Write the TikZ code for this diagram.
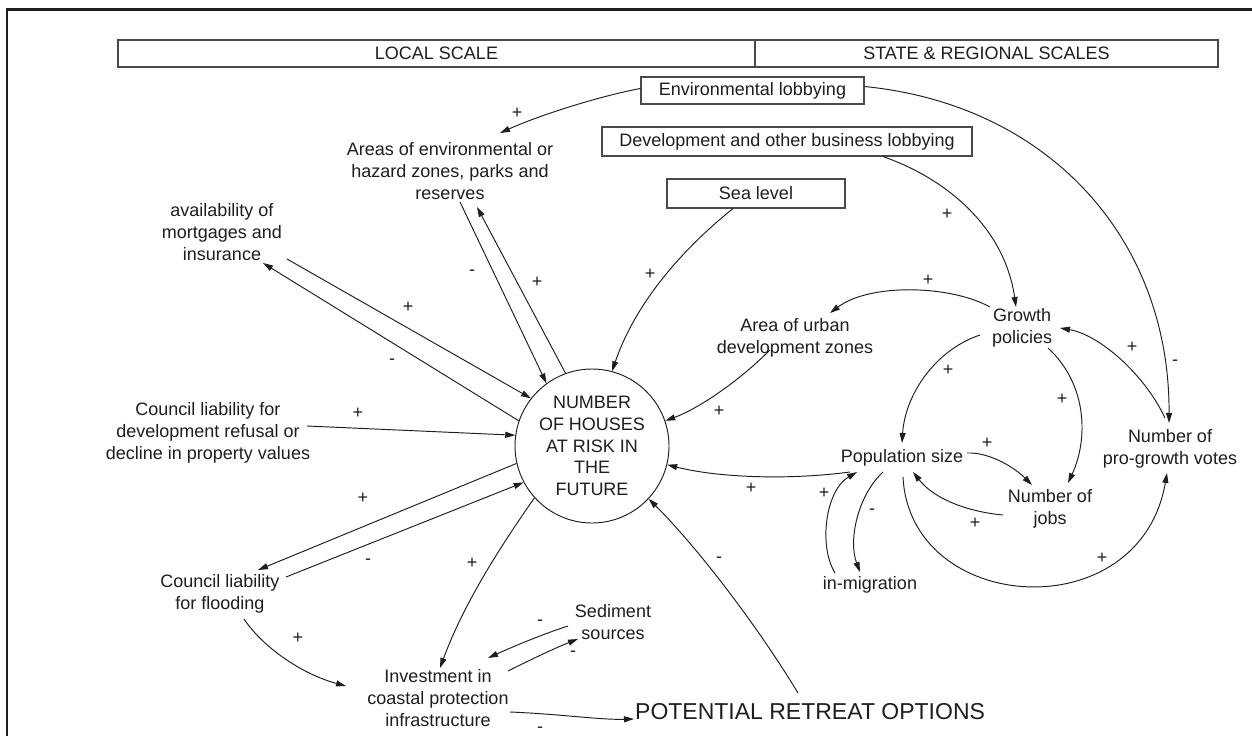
\documentclass[tikz,border=0pt]{standalone}
\usepackage{fontspec}
\setmainfont{Liberation Sans}
\usetikzlibrary{arrows.meta}
\definecolor{ink}{HTML}{1E1E1E}
\definecolor{boxgray}{HTML}{4A4A4A}
\begin{document}
\begin{tikzpicture}[x=1pt,y=-1pt,
  lbl/.style={font=\fontsize{18}{21.7}\selectfont, text=ink, align=center, inner sep=2pt},
  boxed/.style={lbl, draw=boxgray, line width=1.1pt, inner sep=0pt},
  link/.style={draw=ink, line width=0.95pt, -{Triangle[length=10pt,width=6pt]}},
  sgn/.style={font=\fontsize{18}{18}\selectfont, text=ink, inner sep=0pt}
]
\useasboundingbox (0,0) rectangle (1252,736);
\fill[white] (0,0) rectangle (1252,736);
% outer frame (top and left edges)
\draw[ink, line width=2.6pt] (7,736) -- (7,9.5) -- (1252,9.5);

% scale header
\node[boxed, minimum width=637pt, minimum height=27pt] (local) at (436.5,53.5) {LOCAL SCALE};
\node[boxed, minimum width=463pt, minimum height=27pt] (state) at (986.5,53.5) {STATE \& REGIONAL SCALES};

% boxed drivers
\node[boxed, minimum width=223pt, minimum height=27pt] (envlob) at (752.5,90.5) {Environmental lobbying};
\node[boxed, minimum width=370pt, minimum height=29pt] (devlob) at (787,141.5) {Development and other business lobbying};
\node[boxed, minimum width=178pt, minimum height=29pt] (sea) at (756,193.5) {Sea level};

% central variable
\node[lbl, circle, draw=ink, line width=0.95pt, minimum size=154pt, inner sep=0pt] (risk) at (592,446)
  {NUMBER\\OF HOUSES\\AT RISK IN\\THE\\FUTURE};

% local variables
\node[lbl] (areas) at (450,171) {Areas of environmental or\\hazard zones, parks and\\reserves};
\node[lbl] (avail) at (222,232) {availability of\\mortgages and\\insurance};
\node[lbl] (refusal) at (208,433) {Council liability for\\development refusal or\\decline in property values};
\node[lbl] (flood) at (220,594) {Council liability\\for flooding};
\node[lbl] (invest) at (438,698) {Investment in\\coastal protection\\infrastructure};
\node[lbl] (sediment) at (613,622) {Sediment\\sources};
\node[font=\fontsize{23}{23}\selectfont, text=ink, inner sep=0pt, anchor=west] (retreat) at (635,712) {POTENTIAL RETREAT OPTIONS};

% state and regional variables
\node[lbl] (urban) at (795,338) {Area of urban\\development zones};
\node[lbl] (growth) at (1022,328) {Growth\\policies};
\node[lbl] (pop) at (902,458) {Population size};
\node[lbl] (jobs) at (1050,509) {Number of\\jobs};
\node[lbl] (votes) at (1170,449) {Number of\\pro-growth votes};
\node[lbl] (migr) at (870,585) {in-migration};

% lobbying links
\draw[link] ([shift={(0,-2)}]envlob.west) .. controls (600,96) and (540,115) .. ([shift={(50,-38)}]areas.center);
\node[sgn] (s1) at (517,113) {+};
\draw[link] ([shift={(0,-4)}]envlob.east) .. controls (1050,105) and (1170,240) .. ([shift={(-1,-26)}]votes.center);
\node[sgn] (s2) at (1175,363) {-};
\draw[link] ([shift={(96,0)}]devlob.south) .. controls (950,180) and (1005,230) .. ([shift={(-6,-21)}]growth.center);
\node[sgn] (s3) at (947,214) {+};
\draw[link] ([shift={(-23,0)}]sea.south) .. controls (700,235) and (640,290) .. (risk.75.5);
\node[sgn] (s4) at (650,274) {+};

% links around the central variable
\draw[link] ([shift={(10,31)}]areas.center) -- (risk.126);
\node[sgn] (s5) at (472,273) {-};
\draw[link] (risk.110.6) -- ([shift={(27,36)}]areas.center);
\node[sgn] (s6) at (537,282) {+};
\draw[link] ([shift={(65,27)}]avail.center) -- (risk.142);
\node[sgn] (s7) at (408,307) {+};
\draw[link] (risk.161) -- ([shift={(41,31)}]avail.center);
\node[sgn] (s8) at (392,362) {-};
\draw[link] ([shift={(99,-7)}]refusal.center) -- (risk.172);
\node[sgn] (s9) at (358,413) {+};
\draw[link] (risk.193) -- ([shift={(38,-24)}]flood.center);
\node[sgn] (s10) at (363,498) {+};
\draw[link] ([shift={(66,-17)}]flood.center) -- (risk.208);
\node[sgn] (s11) at (368,562) {-};
\draw[link] (risk.222) .. controls (505,540) and (465,600) .. ([shift={(2,-30)}]invest.center);
\node[sgn] (s12) at (472,563) {+};
\draw[link] ([shift={(24,25)}]flood.center) .. controls (265,650) and (305,675) .. ([shift={(-92,-12)}]invest.center);
\node[sgn] (s13) at (298,638) {+};
\draw[link] ([shift={(-45,4)}]sediment.center) .. controls (540,635) and (510,648) .. ([shift={(50,-40)}]invest.center);
\node[sgn] (s14) at (540,623) {-};
\draw[link] ([shift={(70,-27)}]invest.center) .. controls (530,660) and (555,648) .. ([shift={(-35,17)}]sediment.center);
\node[sgn] (s15) at (573,654) {-};
\draw[link] ([shift={(72,14)}]invest.center) .. controls (560,714) and (600,720) .. ([shift={(-1,7)}]retreat.west);
\node[sgn] (s16) at (540,730) {-};
\draw[link] ([shift={(163,-19)}]retreat.west) .. controls (760,630) and (700,550) .. (risk.317);
\node[sgn] (s17) at (719,560) {-};
\draw[link] ([shift={(-25,12)}]urban.center) .. controls (740,380) and (700,408) .. (risk.19);
\node[sgn] (s18) at (719,411) {+};
\draw[link] ([shift={(-52,14)}]pop.center) .. controls (790,480) and (720,478) .. (risk.346);
\node[sgn] (s19) at (751,488) {+};

% growth loop links
\draw[link] ([shift={(-32,-21)}]growth.center) .. controls (950,285) and (870,283) .. ([shift={(35,-25)}]urban.center);
\node[sgn] (s20) at (928,280) {+};
\draw[link] ([shift={(-5,-31)}]votes.center) .. controls (1145,375) and (1100,335) .. ([shift={(38,0)}]growth.center);
\node[sgn] (s21) at (1132,347) {+};
\draw[link] ([shift={(-42,7)}]growth.center) .. controls (935,350) and (905,395) .. ([shift={(0,-15)}]pop.center);
\node[sgn] (s22) at (948,370) {+};
\draw[link] ([shift={(26,20)}]growth.center) .. controls (1088,385) and (1088,440) .. ([shift={(18,-26)}]jobs.center);
\node[sgn] (s23) at (1062,399) {+};
\draw[link] ([shift={(65,-5)}]pop.center) .. controls (990,452) and (1015,468) .. ([shift={(-18,-24)}]jobs.center);
\node[sgn] (s24) at (987,443) {+};
\draw[link] ([shift={(-47,6)}]jobs.center) .. controls (970,512) and (935,500) .. ([shift={(11,14)}]pop.center);
\node[sgn] (s25) at (975,523) {+};
\draw[link] ([shift={(1,19)}]pop.center) .. controls (910,615) and (1140,630) .. ([shift={(-3,24)}]votes.center);
\node[sgn] (s26) at (1102,558) {+};
\draw[link] ([shift={(-19,14)}]pop.center) .. controls (858,495) and (848,540) .. ([shift={(-10,-13)}]migr.center);
\node[sgn] (s27) at (872,512) {-};
\draw[link] ([shift={(-35,-12)}]migr.center) .. controls (818,545) and (826,490) .. ([shift={(-45,14)}]pop.center);
\node[sgn] (s28) at (824,493) {+};
\end{tikzpicture}
\end{document}
